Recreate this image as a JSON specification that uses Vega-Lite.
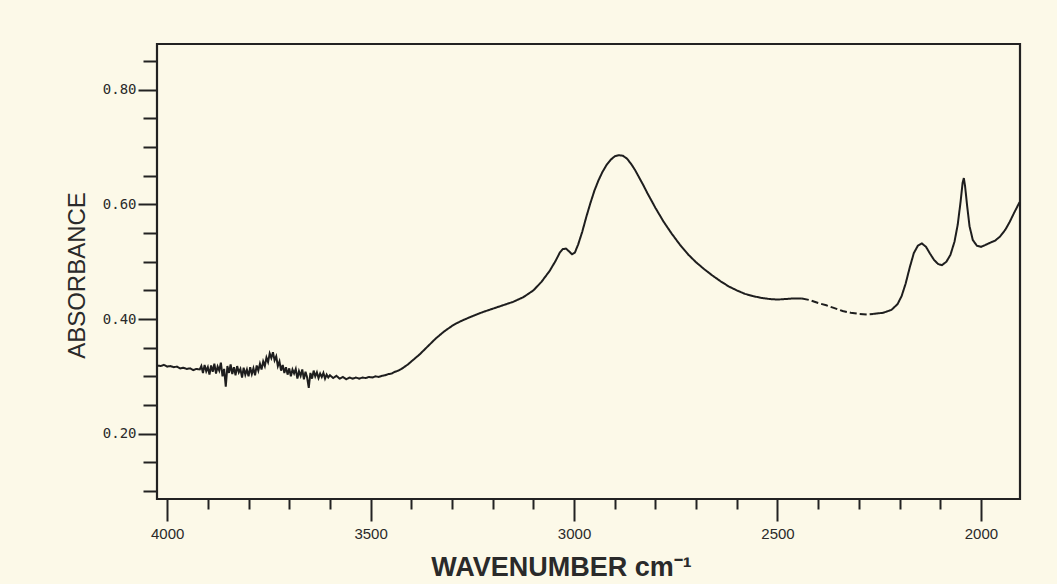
{
  "$schema": "https://vega.github.io/schema/vega-lite/v6.json",
  "width": 863,
  "height": 455,
  "autosize": {"type": "none"},
  "padding": {"left": 157, "top": 44, "right": 37, "bottom": 85},
  "background": "#FCF9E8",
  "config": {
    "view": {"stroke": "#222222", "strokeWidth": 2.2, "fill": "#FCF9E8"},
    "axis": {"grid": false, "domain": false, "tickColor": "#222222", "tickWidth": 2, "labelColor": "#2a2a2a", "titleColor": "#2a2a2a"}
  },
  "data": {"values": [
    {"w":4024,"a":0.319,"part":"a"},{"w":4016,"a":0.318,"part":"a"},{"w":4008,"a":0.320,"part":"a"},{"w":4000,"a":0.317,"part":"a"},
    {"w":3992,"a":0.318,"part":"a"},{"w":3984,"a":0.316,"part":"a"},{"w":3976,"a":0.317,"part":"a"},{"w":3968,"a":0.314,"part":"a"},
    {"w":3960,"a":0.315,"part":"a"},{"w":3952,"a":0.313,"part":"a"},{"w":3944,"a":0.314,"part":"a"},{"w":3936,"a":0.311,"part":"a"},
    {"w":3928,"a":0.313,"part":"a"},{"w":3920,"a":0.312,"part":"a"},
    {"w":3916,"a":0.318,"part":"a"},{"w":3912,"a":0.306,"part":"a"},{"w":3908,"a":0.320,"part":"a"},{"w":3904,"a":0.309,"part":"a"},
    {"w":3900,"a":0.316,"part":"a"},{"w":3896,"a":0.303,"part":"a"},{"w":3892,"a":0.319,"part":"a"},{"w":3888,"a":0.308,"part":"a"},
    {"w":3884,"a":0.322,"part":"a"},{"w":3880,"a":0.305,"part":"a"},{"w":3876,"a":0.317,"part":"a"},{"w":3872,"a":0.310,"part":"a"},
    {"w":3868,"a":0.324,"part":"a"},{"w":3864,"a":0.300,"part":"a"},{"w":3860,"a":0.313,"part":"a"},{"w":3856,"a":0.282,"part":"a"},
    {"w":3852,"a":0.318,"part":"a"},{"w":3848,"a":0.306,"part":"a"},{"w":3844,"a":0.321,"part":"a"},{"w":3840,"a":0.304,"part":"a"},
    {"w":3836,"a":0.316,"part":"a"},{"w":3832,"a":0.302,"part":"a"},{"w":3828,"a":0.318,"part":"a"},{"w":3824,"a":0.307,"part":"a"},
    {"w":3820,"a":0.313,"part":"a"},{"w":3816,"a":0.298,"part":"a"},{"w":3812,"a":0.315,"part":"a"},{"w":3808,"a":0.303,"part":"a"},
    {"w":3804,"a":0.312,"part":"a"},{"w":3800,"a":0.300,"part":"a"},{"w":3796,"a":0.316,"part":"a"},{"w":3792,"a":0.304,"part":"a"},
    {"w":3788,"a":0.314,"part":"a"},{"w":3784,"a":0.302,"part":"a"},{"w":3780,"a":0.319,"part":"a"},{"w":3776,"a":0.310,"part":"a"},
    {"w":3772,"a":0.322,"part":"a"},{"w":3768,"a":0.312,"part":"a"},{"w":3764,"a":0.326,"part":"a"},{"w":3760,"a":0.318,"part":"a"},
    {"w":3756,"a":0.333,"part":"a"},{"w":3752,"a":0.325,"part":"a"},{"w":3748,"a":0.340,"part":"a"},{"w":3744,"a":0.332,"part":"a"},
    {"w":3740,"a":0.342,"part":"a"},{"w":3736,"a":0.328,"part":"a"},{"w":3732,"a":0.335,"part":"a"},{"w":3728,"a":0.318,"part":"a"},
    {"w":3724,"a":0.326,"part":"a"},{"w":3720,"a":0.310,"part":"a"},{"w":3716,"a":0.320,"part":"a"},{"w":3712,"a":0.306,"part":"a"},
    {"w":3708,"a":0.316,"part":"a"},{"w":3704,"a":0.303,"part":"a"},{"w":3700,"a":0.314,"part":"a"},{"w":3696,"a":0.300,"part":"a"},
    {"w":3692,"a":0.312,"part":"a"},{"w":3688,"a":0.305,"part":"a"},{"w":3684,"a":0.313,"part":"a"},{"w":3680,"a":0.296,"part":"a"},
    {"w":3676,"a":0.309,"part":"a"},{"w":3672,"a":0.301,"part":"a"},{"w":3668,"a":0.312,"part":"a"},{"w":3664,"a":0.295,"part":"a"},
    {"w":3660,"a":0.308,"part":"a"},{"w":3656,"a":0.298,"part":"a"},{"w":3652,"a":0.280,"part":"a"},{"w":3648,"a":0.306,"part":"a"},
    {"w":3644,"a":0.296,"part":"a"},{"w":3640,"a":0.310,"part":"a"},{"w":3636,"a":0.300,"part":"a"},{"w":3632,"a":0.307,"part":"a"},
    {"w":3628,"a":0.297,"part":"a"},{"w":3624,"a":0.305,"part":"a"},{"w":3620,"a":0.299,"part":"a"},{"w":3616,"a":0.306,"part":"a"},
    {"w":3612,"a":0.296,"part":"a"},{"w":3608,"a":0.303,"part":"a"},{"w":3604,"a":0.298,"part":"a"},{"w":3600,"a":0.302,"part":"a"},
    {"w":3592,"a":0.297,"part":"a"},{"w":3584,"a":0.301,"part":"a"},{"w":3576,"a":0.296,"part":"a"},{"w":3568,"a":0.299,"part":"a"},
    {"w":3560,"a":0.295,"part":"a"},{"w":3552,"a":0.298,"part":"a"},{"w":3544,"a":0.296,"part":"a"},{"w":3536,"a":0.298,"part":"a"},
    {"w":3528,"a":0.296,"part":"a"},{"w":3520,"a":0.298,"part":"a"},{"w":3512,"a":0.297,"part":"a"},{"w":3504,"a":0.299,"part":"a"},
    {"w":3496,"a":0.298,"part":"a"},{"w":3488,"a":0.300,"part":"a"},{"w":3480,"a":0.299,"part":"a"},{"w":3472,"a":0.301,"part":"a"},
    {"w":3464,"a":0.302,"part":"a"},{"w":3456,"a":0.304,"part":"a"},{"w":3448,"a":0.305,"part":"a"},{"w":3440,"a":0.308,"part":"a"},
    {"w":3432,"a":0.310,"part":"a"},{"w":3424,"a":0.313,"part":"a"},{"w":3416,"a":0.317,"part":"a"},{"w":3408,"a":0.321,"part":"a"},
    {"w":3400,"a":0.326,"part":"a"},{"w":3390,"a":0.332,"part":"a"},{"w":3380,"a":0.338,"part":"a"},{"w":3370,"a":0.345,"part":"a"},
    {"w":3360,"a":0.352,"part":"a"},{"w":3350,"a":0.359,"part":"a"},{"w":3340,"a":0.366,"part":"a"},{"w":3330,"a":0.372,"part":"a"},
    {"w":3320,"a":0.378,"part":"a"},{"w":3310,"a":0.383,"part":"a"},{"w":3300,"a":0.388,"part":"a"},{"w":3285,"a":0.394,"part":"a"},
    {"w":3270,"a":0.399,"part":"a"},{"w":3250,"a":0.405,"part":"a"},
    {"w":3225,"a":0.412,"part":"a"},{"w":3200,"a":0.418,"part":"a"},{"w":3175,"a":0.424,"part":"a"},{"w":3150,"a":0.430,"part":"a"},
    {"w":3125,"a":0.438,"part":"a"},{"w":3100,"a":0.450,"part":"a"},{"w":3080,"a":0.465,"part":"a"},{"w":3060,"a":0.484,"part":"a"},
    {"w":3045,"a":0.502,"part":"a"},{"w":3035,"a":0.516,"part":"a"},{"w":3028,"a":0.522,"part":"a"},{"w":3020,"a":0.523,"part":"a"},
    {"w":3012,"a":0.518,"part":"a"},{"w":3005,"a":0.513,"part":"a"},{"w":2998,"a":0.516,"part":"a"},{"w":2990,"a":0.530,"part":"a"},
    {"w":2980,"a":0.552,"part":"a"},{"w":2970,"a":0.578,"part":"a"},{"w":2960,"a":0.602,"part":"a"},{"w":2950,"a":0.624,"part":"a"},
    {"w":2940,"a":0.642,"part":"a"},{"w":2930,"a":0.657,"part":"a"},{"w":2920,"a":0.669,"part":"a"},{"w":2910,"a":0.678,"part":"a"},
    {"w":2900,"a":0.684,"part":"a"},{"w":2890,"a":0.686,"part":"a"},{"w":2880,"a":0.685,"part":"a"},{"w":2870,"a":0.680,"part":"a"},
    {"w":2860,"a":0.671,"part":"a"},{"w":2850,"a":0.660,"part":"a"},{"w":2840,"a":0.647,"part":"a"},{"w":2830,"a":0.634,"part":"a"},
    {"w":2820,"a":0.620,"part":"a"},{"w":2800,"a":0.594,"part":"a"},{"w":2780,"a":0.570,"part":"a"},{"w":2760,"a":0.549,"part":"a"},
    {"w":2740,"a":0.530,"part":"a"},{"w":2720,"a":0.513,"part":"a"},{"w":2700,"a":0.499,"part":"a"},{"w":2680,"a":0.487,"part":"a"},
    {"w":2660,"a":0.476,"part":"a"},{"w":2640,"a":0.466,"part":"a"},{"w":2620,"a":0.457,"part":"a"},{"w":2600,"a":0.450,"part":"a"},
    {"w":2580,"a":0.444,"part":"a"},{"w":2560,"a":0.440,"part":"a"},{"w":2540,"a":0.437,"part":"a"},{"w":2520,"a":0.435,"part":"a"},
    {"w":2500,"a":0.434,"part":"a"},{"w":2480,"a":0.435,"part":"a"},{"w":2460,"a":0.436,"part":"a"},{"w":2440,"a":0.436,"part":"a"},
    {"w":2440,"a":0.436,"part":"gap"},{"w":2420,"a":0.433,"part":"gap"},{"w":2400,"a":0.428,"part":"gap"},{"w":2380,"a":0.424,"part":"gap"},
    {"w":2360,"a":0.419,"part":"gap"},{"w":2340,"a":0.414,"part":"gap"},{"w":2320,"a":0.411,"part":"gap"},{"w":2300,"a":0.409,"part":"gap"},
    {"w":2280,"a":0.408,"part":"gap"},{"w":2265,"a":0.409,"part":"gap"},
    {"w":2265,"a":0.409,"part":"b"},{"w":2240,"a":0.411,"part":"b"},{"w":2220,"a":0.416,"part":"b"},{"w":2205,"a":0.426,"part":"b"},
    {"w":2195,"a":0.440,"part":"b"},{"w":2185,"a":0.462,"part":"b"},{"w":2175,"a":0.490,"part":"b"},{"w":2165,"a":0.515,"part":"b"},
    {"w":2155,"a":0.528,"part":"b"},{"w":2145,"a":0.532,"part":"b"},{"w":2135,"a":0.526,"part":"b"},{"w":2125,"a":0.514,"part":"b"},
    {"w":2115,"a":0.503,"part":"b"},{"w":2105,"a":0.496,"part":"b"},{"w":2096,"a":0.494,"part":"b"},{"w":2085,"a":0.500,"part":"b"},
    {"w":2075,"a":0.512,"part":"b"},{"w":2065,"a":0.535,"part":"b"},{"w":2057,"a":0.565,"part":"b"},{"w":2050,"a":0.605,"part":"b"},
    {"w":2045,"a":0.638,"part":"b"},{"w":2042,"a":0.646,"part":"b"},{"w":2039,"a":0.632,"part":"b"},{"w":2034,"a":0.598,"part":"b"},
    {"w":2028,"a":0.562,"part":"b"},{"w":2020,"a":0.538,"part":"b"},{"w":2010,"a":0.528,"part":"b"},{"w":2000,"a":0.526,"part":"b"},
    {"w":1990,"a":0.529,"part":"b"},{"w":1978,"a":0.533,"part":"b"},{"w":1965,"a":0.537,"part":"b"},{"w":1953,"a":0.544,"part":"b"},
    {"w":1940,"a":0.556,"part":"b"},{"w":1929,"a":0.570,"part":"b"},{"w":1918,"a":0.586,"part":"b"},{"w":1905,"a":0.604,"part":"b"}
  ]},
  "mark": {"type": "line", "color": "#1e1e1e", "strokeWidth": 2, "clip": true},
  "encoding": {
    "x": {
      "field": "w", "type": "quantitative", "sort": null,
      "scale": {"domain": [4025, 1904], "nice": false, "zero": false},
      "axis": {
        "values": [4000,3900,3800,3700,3600,3500,3400,3300,3200,3100,3000,2900,2800,2700,2600,2500,2400,2300,2200,2100,2000],
        "format": "d",
        "labelExpr": "datum.value % 500 === 0 ? datum.label : ''",
        "tickSize": {"condition": {"test": "datum.value % 500 === 0", "value": 22}, "value": 10},
        "labelPadding": 5,
        "labelFont": "Liberation Sans", "labelFontSize": 15,
        "title": "WAVENUMBER cm⁻¹",
        "titleFont": "Liberation Sans", "titleFontSize": 27, "titleFontWeight": "bold",
        "titleAlign": "center", "titleBaseline": "alphabetic", "titleX": 404, "titleY": 76
      }
    },
    "y": {
      "field": "a", "type": "quantitative",
      "scale": {"domain": [0.086, 0.88], "nice": false, "zero": false},
      "axis": {
        "values": [0.1,0.15,0.2,0.25,0.3,0.35,0.4,0.45,0.5,0.55,0.6,0.65,0.7,0.75,0.8,0.85],
        "labelExpr": "indexof([0.2,0.4,0.6,0.8], datum.value) >= 0 ? format(datum.value, '.2f') : ''",
        "tickSize": {"condition": {"test": "indexof([0.2,0.4,0.6,0.8], datum.value) >= 0", "value": 19}, "value": 14},
        "labelPadding": 2,
        "labelFont": "DejaVu Sans Mono", "labelFontSize": 14,
        "title": "ABSORBANCE",
        "titleFont": "Liberation Sans", "titleFontSize": 24, "titleFontWeight": "normal",
        "titleAlign": "center", "titleBaseline": "alphabetic", "titleAngle": -90, "titleX": -73, "titleY": 231
      }
    },
    "strokeDash": {
      "field": "part", "type": "nominal",
      "scale": {"domain": ["a", "gap", "b"], "range": [[1, 0], [7, 3], [1, 0]]},
      "legend": null
    }
  }
}
